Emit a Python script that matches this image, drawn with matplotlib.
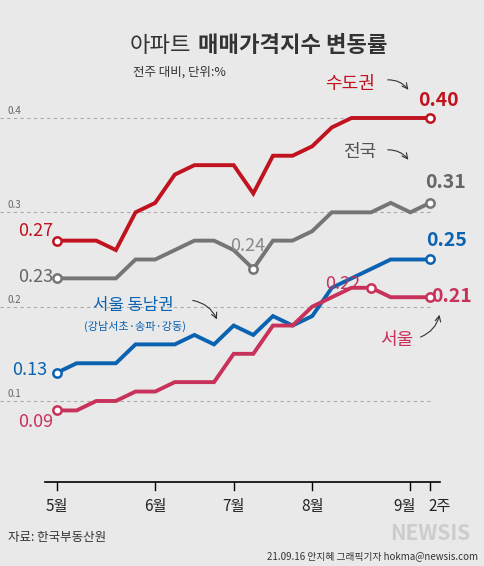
import matplotlib
matplotlib.use("Agg")
import matplotlib.pyplot as plt

plt.rcParams['font.family'] = ['Noto Sans CJK KR', 'DejaVu Sans']

weeks = list(range(20))
capital = [0.27,0.27,0.27,0.26,0.30,0.31,0.34,0.35,0.35,0.35,0.32,0.36,0.36,0.37,0.39,0.40,0.40,0.40,0.40,0.40]
nation  = [0.23,0.23,0.23,0.23,0.25,0.25,0.26,0.27,0.27,0.26,0.24,0.27,0.27,0.28,0.30,0.30,0.30,0.31,0.30,0.31]
southeast = [0.13,0.14,0.14,0.14,0.16,0.16,0.16,0.17,0.16,0.18,0.17,0.19,0.18,0.19,0.22,0.23,0.24,0.25,0.25,0.25]
seoul   = [0.09,0.09,0.10,0.10,0.11,0.11,0.12,0.12,0.12,0.15,0.15,0.18,0.18,0.20,0.21,0.22,0.22,0.21,0.21,0.21]
month_pos = [0, 5, 9, 13, 18, 19]
month_labels = ['5월', '6월', '7월', '8월', '9월', '2주']
label_shift = [0, 0, 0, 0, -0.3, 0.5]
yticks = [0.1, 0.2, 0.3, 0.4]

W, H = 484, 566
fig = plt.figure(figsize=(W/100, H/100), dpi=100, facecolor='#e9e9e9')
ax = fig.add_axes([0, 0, 1, 1])
ax.set_facecolor('#e9e9e9')
px = 19.63
x0 = 57
ppu = 943.3
ax.set_xlim(-x0/px, (W-x0)/px)
ax.set_ylim(0.4-(H-118)/ppu, 0.4+118/ppu)
ax.axis('off')

def X(p): return (p-x0)/px
def Y(p): return 0.4-(p-118)/ppu

for t in yticks:
    ax.plot([X(0), X(430)], [t, t], ls=(0,(3,3)), color='#aaaaaa', lw=0.8, zorder=1)
    ax.text(X(8), t+0.002, f'{t:.1f}', fontsize=7, color='#666666', ha='left', va='bottom')

series = [(capital,'#c0121f'),(nation,'#757575'),(southeast,'#0a62b0'),(seoul,'#c8325a')]
for vals,c in series:
    ax.plot(weeks, vals, color=c, lw=2.8, zorder=3, solid_joinstyle='miter')
    ax.plot([weeks[0], weeks[-1]], [vals[0], vals[-1]], 'o', ms=6, mfc='white', mec=c, mew=1.8, zorder=4)
ax.plot(weeks[10], nation[10], 'o', ms=6, mfc='white', mec='#757575', mew=1.8, zorder=4)
ax.plot(weeks[16], seoul[16], 'o', ms=6, mfc='white', mec='#c8325a', mew=1.8, zorder=4)

# axis
ya = Y(482)
ax.plot([X(45), X(440)], [ya, ya], color='black', lw=1.2)
for p, l, s in zip(month_pos, month_labels, label_shift):
    ax.plot([p, p], [ya, Y(490)], color='black', lw=1)
    ax.text(p + s, Y(506), l, fontsize=11, ha='center', va='center', color='#222222')

# title
ax.text(X(130), Y(45), '아파트', fontsize=16, ha='left', va='center', color='#333333')
ax.text(X(198), Y(45), '매매가격지수 변동률', fontsize=16, ha='left', va='center', color='#333333', fontweight='bold')
ax.text(X(133), Y(72), '전주 대비, 단위:%', fontsize=9, ha='left', va='center', color='#333333')

# labels
ax.text(X(350), Y(84), '수도권', fontsize=13, color='#c0121f', ha='center', va='center')
ax.text(X(438), Y(100), '0.40', fontsize=14, color='#c0121f', ha='center', va='center', fontweight='bold')
ax.text(X(360), Y(152), '전국', fontsize=13, color='#555555', ha='center', va='center')
ax.text(X(445), Y(183), '0.31', fontsize=14, color='#666666', ha='center', va='center', fontweight='bold')
ax.text(X(447), Y(240), '0.25', fontsize=14, color='#0a62b0', ha='center', va='center', fontweight='bold')
ax.text(X(452), Y(296), '0.21', fontsize=14, color='#c8325a', ha='center', va='center', fontweight='bold')
ax.text(X(397), Y(340), '서울', fontsize=13, color='#c8325a', ha='center', va='center')
ax.text(X(133), Y(305), '서울 동남권', fontsize=12, color='#0a62b0', ha='center', va='center')
ax.text(X(135), Y(326), '(강남서초·송파·강동)', fontsize=8, color='#0a62b0', ha='center', va='center')
ax.text(X(36), Y(231), '0.27', fontsize=13, color='#c0121f', ha='center', va='center')
ax.text(X(36), Y(277), '0.23', fontsize=13, color='#666666', ha='center', va='center')
ax.text(X(30), Y(370), '0.13', fontsize=13, color='#0a62b0', ha='center', va='center')
ax.text(X(36), Y(422), '0.09', fontsize=13, color='#c8325a', ha='center', va='center')
ax.text(X(248), Y(246), '0.24', fontsize=13, color='#888888', ha='center', va='center')
ax.text(X(343), Y(284), '0.22', fontsize=13, color='#c8325a', ha='center', va='center')

# arrows
ax.annotate('', xy=(X(410), Y(92)), xytext=(X(385), Y(80)),
            arrowprops=dict(arrowstyle='->', color='#333333', lw=0.8, connectionstyle='arc3,rad=-0.3'))
ax.annotate('', xy=(X(410), Y(162)), xytext=(X(385), Y(150)),
            arrowprops=dict(arrowstyle='->', color='#333333', lw=0.8, connectionstyle='arc3,rad=-0.3'))
ax.annotate('', xy=(X(218), Y(322)), xytext=(X(190), Y(300)),
            arrowprops=dict(arrowstyle='->', color='#333333', lw=0.8, connectionstyle='arc3,rad=-0.3'))
ax.annotate('', xy=(X(440), Y(312)), xytext=(X(418), Y(338)),
            arrowprops=dict(arrowstyle='->', color='#333333', lw=0.8, connectionstyle='arc3,rad=0.3'))

ax.text(X(8), Y(538), '자료: 한국부동산원', fontsize=9, color='#333333', ha='left', va='center')
ax.text(X(478), Y(556), '21.09.16 안지혜 그래픽기자 hokma@newsis.com', fontsize=7, color='#333333', ha='right', va='center')
ax.text(X(470), Y(533), 'NEWSIS', fontsize=15, color='#cccccc', ha='right', va='center', fontweight='bold', style='italic')

fig.savefig('out.png', dpi=100, facecolor=fig.get_facecolor())
